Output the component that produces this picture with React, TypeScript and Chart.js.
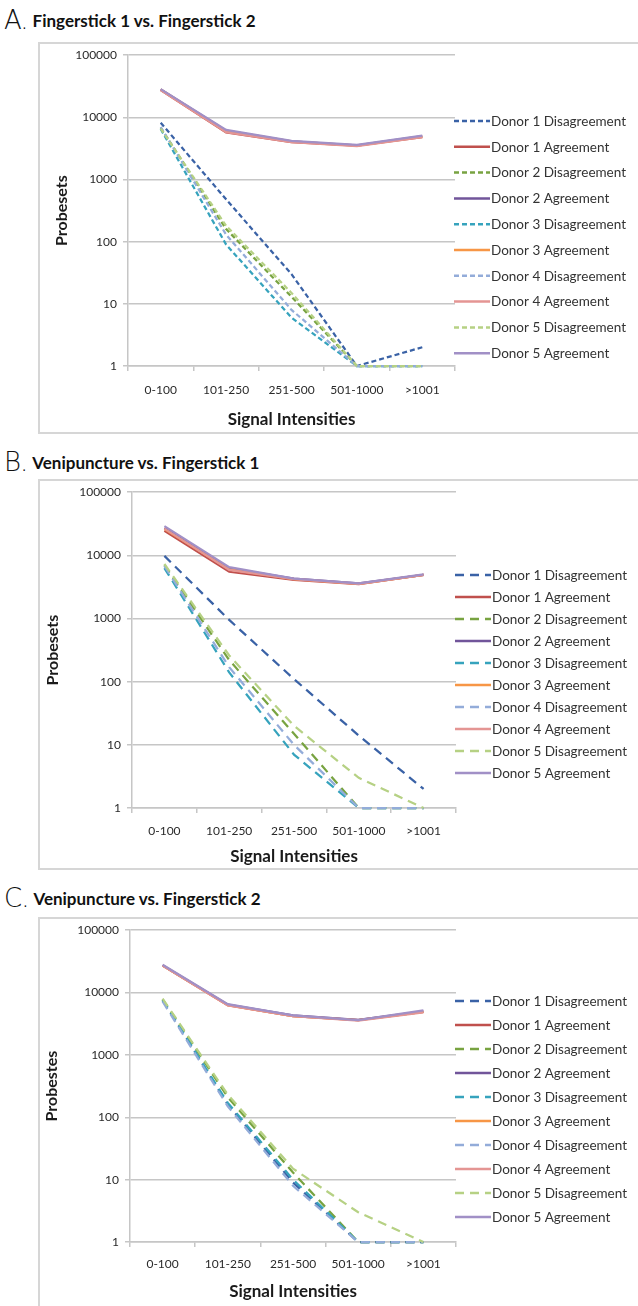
import React, { useEffect, useRef } from "react";
import { Chart, registerables } from "chart.js";

Chart.register(...registerables);

// ---------- data ----------
const CATEGORIES = ["0-100", "101-250", "251-500", "501-1000", ">1001"];
const Y_TICKS = [1, 10, 100, 1000, 10000, 100000];
const DONORS = ["Donor 1", "Donor 2", "Donor 3", "Donor 4", "Donor 5"];

// Panel A: Fingerstick 1 vs. Fingerstick 2
const A_DISAGREE = [
  [8200, 480, 30, 1, 2],
  [6800, 160, 13, 1, 1],
  [6500, 90, 6, 1, 1],
  [7000, 130, 8, 1, 1],
  [6600, 180, 15, 1, 1],
];
const A_AGREE = [
  [27500, 5700, 4000, 3500, 4800],
  [28000, 6100, 4100, 3550, 5000],
  [28000, 6000, 4100, 3500, 4900],
  [27500, 5800, 4000, 3450, 4800],
  [28500, 6300, 4200, 3600, 5100],
];

// Panel B: Venipuncture vs. Fingerstick 1
const B_DISAGREE = [
  [9800, 950, 110, 14, 2],
  [7000, 220, 15, 1, 1],
  [6300, 140, 7, 1, 1],
  [6800, 170, 10, 1, 1],
  [7300, 260, 20, 3, 1],
];
const B_AGREE = [
  [24500, 5500, 4100, 3500, 4900],
  [27000, 6200, 4300, 3600, 4900],
  [26000, 6000, 4200, 3550, 4900],
  [26500, 5900, 4200, 3550, 4900],
  [29000, 6500, 4300, 3600, 5000],
];

// Panel C: Venipuncture vs. Fingerstick 2
const C_DISAGREE = [
  [7600, 160, 9, 1, 1],
  [7800, 210, 13, 1, 1],
  [7500, 170, 10, 1, 1],
  [7200, 150, 8, 1, 1],
  [8000, 230, 15, 3, 1],
];
const C_AGREE = [
  [27000, 6300, 4200, 3600, 4900],
  [27500, 6400, 4300, 3650, 5000],
  [27000, 6300, 4200, 3600, 4900],
  [27000, 6200, 4200, 3550, 4800],
  [28000, 6500, 4300, 3600, 5200],
];

// ---------- styles ----------
const DIS_COLORS = ["#3a62a6", "#78a341", "#36a3bd", "#93acd9", "#b6d184"];
const AGR_COLORS = ["#c0504d", "#71559a", "#f79646", "#e49593", "#a190c6"];
const FONT = "Lato, 'Open Sans', sans-serif";
const GRID = "#c6c6c6";

type PanelCfg = {
  letter: string;
  title: string;
  yTitle: string;
  dis: number[][];
  agr: number[][];
  titleY: number;
  boxTop: number;
  boxBottom: number;
  canvasBottom: number;
  areaTop: number;
  areaBottom: number;
  areaLeft: number;
  areaRight: number;
  yTitleX: number;
  xLabelY: number;
  xTitleY: number;
  legendY0: number;
  legendDy: number;
  dash: number[];
};

const PANELS: PanelCfg[] = [
  {
    letter: "A.", title: "Fingerstick 1 vs. Fingerstick 2", yTitle: "Probesets",
    dis: A_DISAGREE, agr: A_AGREE, titleY: 20,
    boxTop: 42, boxBottom: 434, canvasBottom: 434,
    areaTop: 54, areaBottom: 366, areaLeft: 128, areaRight: 455,
    yTitleX: 62, xLabelY: 390, xTitleY: 420,
    legendY0: 121, legendDy: 25.8, dash: [5, 3],
  },
  {
    letter: "B.", title: "Venipuncture vs. Fingerstick 1", yTitle: "Probesets",
    dis: B_DISAGREE, agr: B_AGREE, titleY: 462,
    boxTop: 479, boxBottom: 870, canvasBottom: 870,
    areaTop: 488, areaBottom: 808, areaLeft: 132, areaRight: 456,
    yTitleX: 53, xLabelY: 831, xTitleY: 857,
    legendY0: 575, legendDy: 22, dash: [9, 6],
  },
  {
    letter: "C.", title: "Venipuncture vs. Fingerstick 2", yTitle: "Probestes",
    dis: C_DISAGREE, agr: C_AGREE, titleY: 898,
    boxTop: 917, boxBottom: 1330, canvasBottom: 1306,
    areaTop: 928, areaBottom: 1242, areaLeft: 130, areaRight: 456,
    yTitleX: 52, xLabelY: 1264, xTitleY: 1292,
    legendY0: 1001, legendDy: 24, dash: [9, 6],
  },
];

const sideLegend = {
  id: "sideLegend",
  afterDraw(chart: any, _args: any, opts: any) {
    const { ctx, chartArea } = chart;
    const x0 = chartArea.right - 1;
    chart.data.datasets.forEach((ds: any, i: number) => {
      const y = opts.y0 + i * opts.dy;
      ctx.save();
      ctx.strokeStyle = ds.borderColor;
      ctx.lineWidth = 2.5;
      ctx.setLineDash(ds.borderDash || []);
      ctx.beginPath();
      ctx.moveTo(x0, y);
      ctx.lineTo(x0 + 36, y);
      ctx.stroke();
      ctx.setLineDash([]);
      ctx.fillStyle = "#333";
      ctx.font = `13.5px ${FONT}`;
      ctx.textBaseline = "middle";
      ctx.textAlign = "left";
      ctx.fillText(ds.label, x0 + 37, y + 0.5);
      ctx.restore();
    });
  },
};

function Panel({ cfg }: { cfg: PanelCfg }) {
  const ref = useRef<HTMLCanvasElement | null>(null);
  const canvasH = cfg.canvasBottom - cfg.boxTop;

  useEffect(() => {
    if (!ref.current) return;
    const datasets: any[] = [];
    DONORS.forEach((d, i) => {
      datasets.push({
        label: `${d} Disagreement`,
        data: cfg.dis[i],
        borderColor: DIS_COLORS[i],
        backgroundColor: DIS_COLORS[i],
        borderWidth: 2.25,
        borderDash: cfg.dash,
        pointRadius: 0,
        tension: 0,
        clip: 4,
        order: 20 - i * 2,
      });
      datasets.push({
        label: `${d} Agreement`,
        data: cfg.agr[i],
        borderColor: AGR_COLORS[i],
        backgroundColor: AGR_COLORS[i],
        borderWidth: 2.25,
        pointRadius: 0,
        tension: 0,
        clip: 4,
        order: 20 - (i * 2 + 1),
      });
    });
    const yTitleFont = 16;
    const lh = yTitleFont * 1.2;
    const xTitleFont = 17;
    const tickFont = 12;
    const chart = new Chart(ref.current, {
      type: "line",
      data: { labels: CATEGORIES, datasets },
      plugins: [sideLegend],
      options: {
        animation: false,
        responsive: false,
        devicePixelRatio: 1,
        layout: {
          padding: {
            left: 0,
            right: 638 - cfg.areaRight,
            top: cfg.areaTop - cfg.boxTop,
            bottom: 0,
          },
        },
        plugins: {
          legend: { display: false },
          tooltip: { enabled: false },
          sideLegend: { y0: cfg.legendY0 - cfg.boxTop, dy: cfg.legendDy },
        } as any,
        scales: {
          x: {
            type: "category",
            offset: true,
            grid: {
              offset: true,
              drawOnChartArea: false,
              drawTicks: true,
              tickLength: 5,
              color: GRID,
              lineWidth: 1.5,
            },
            border: { color: GRID, width: 1.5 },
            ticks: {
              color: "#2a2a2a",
              font: { family: FONT, size: tickFont },
              padding: cfg.xLabelY - cfg.areaBottom - 5 - (tickFont * 1.2) / 2,
              maxRotation: 0,
              autoSkip: false,
            },
            title: {
              display: true,
              text: "Signal Intensities",
              color: "#1a1a1a",
              font: { family: FONT, size: xTitleFont, weight: "bold" },
              padding: { top: 0, bottom: cfg.canvasBottom - cfg.xTitleY - (xTitleFont * 1.2) / 2 },
            },
            afterFit: (s: any) => {
              s.height = cfg.canvasBottom - cfg.areaBottom;
            },
          },
          y: {
            type: "logarithmic",
            min: 1,
            max: 100000,
            afterBuildTicks: (s: any) => {
              s.ticks = Y_TICKS.map((v) => ({ value: v }));
            },
            grid: {
              color: GRID,
              lineWidth: 1.5,
              tickLength: 5,
              drawTicks: true,
            },
            border: { color: GRID, width: 1.5 },
            ticks: {
              color: "#2a2a2a",
              font: { family: FONT, size: 12 },
              padding: 6,
              callback: (v: any) => String(v),
            },
            title: {
              display: true,
              text: cfg.yTitle,
              color: "#1a1a1a",
              font: { family: FONT, size: yTitleFont, weight: "bold" },
              padding: { top: cfg.yTitleX - lh / 2, bottom: 0 },
            },
            afterFit: (s: any) => {
              s.width = cfg.areaLeft;
            },
          },
        },
      } as any,
    });
    return () => chart.destroy();
  }, []);

  return (
    <>
      <div
        style={{
          position: "absolute",
          left: 4,
          top: cfg.titleY - 16,
          height: 32,
          display: "flex",
          alignItems: "center",
          whiteSpace: "nowrap",
          color: "#111",
        }}
      >
        <span
          style={{
            fontFamily: "'DejaVu Sans', sans-serif",
            fontWeight: 200,
            fontSize: 26,
            marginRight: 5,
            letterSpacing: -1,
          }}
        >
          {cfg.letter}
        </span>
        <span style={{ fontFamily: FONT, fontWeight: 700, fontSize: 17 }}>{cfg.title}</span>
      </div>
      <div
        style={{
          position: "absolute",
          left: 38,
          top: cfg.boxTop,
          width: 700,
          height: cfg.boxBottom - cfg.boxTop,
          border: "2px solid #d6d6d6",
          boxSizing: "border-box",
        }}
      />
      <canvas
        ref={ref}
        width={638}
        height={canvasH}
        style={{ position: "absolute", left: 0, top: cfg.boxTop, width: 638, height: canvasH }}
      />
    </>
  );
}

export default function App() {
  return (
    <div
      style={{
        position: "absolute",
        left: 0,
        top: 0,
        width: 638,
        height: 1306,
        overflow: "hidden",
        background: "#fff",
      }}
    >
      {PANELS.map((p) => (
        <Panel key={p.letter} cfg={p} />
      ))}
    </div>
  );
}
